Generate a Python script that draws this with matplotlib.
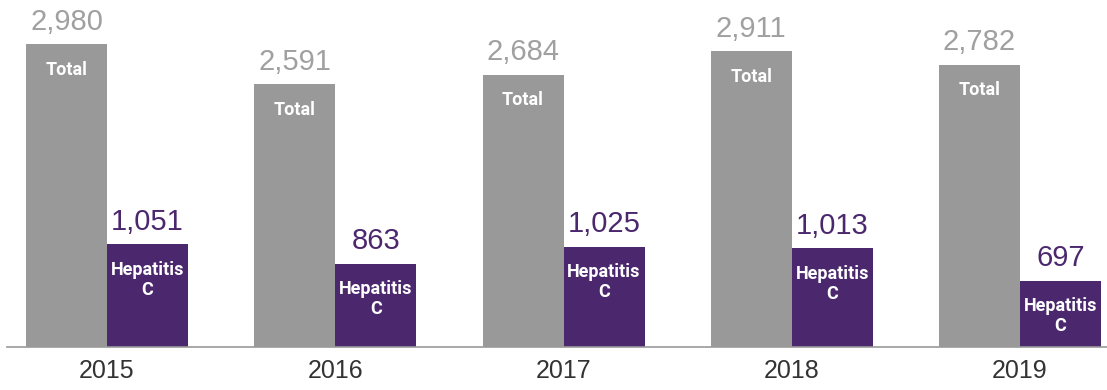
import matplotlib
matplotlib.use("Agg")
import matplotlib.pyplot as plt
import numpy as np

years = ["2015", "2016", "2017", "2018", "2019"]
total = [2980, 2591, 2684, 2911, 2782]
hepc = [1051, 863, 1025, 1013, 697]

GRAY = "#999999"
PURPLE = "#4b286d"
W, H = 1107, 390
fig = plt.figure(figsize=(W / 100, H / 100), dpi=100)
ax = fig.add_axes([7 / W, (H - 347) / H, 1 - 7 / W, 347 / H])

x = np.arange(len(years))
step = 228.25
bw = 81 / step
ax.bar(x - bw / 2, total, width=bw, color=GRAY, align="center", zorder=2)
ax.bar(x + bw / 2, hepc, width=bw, color=PURPLE, align="center", zorder=2)

ax.set_xlim((7 - 107) / step, (1107 - 107) / step)
ax.set_ylim(58, 3404)

num_font = ["Liberation Sans", "DejaVu Sans"]
narrow = ["Liberation Sans Narrow", "Roboto", "DejaVu Sans"]
for i in range(len(years)):
    ax.annotate(f"{total[i]:,}", (x[i] - bw / 2, total[i]), xytext=(0, 6),
                textcoords="offset points", ha="center", va="bottom",
                fontsize=21, color="#a0a0a0", family=num_font)
    ax.annotate(f"{hepc[i]:,}", (x[i] + bw / 2, hepc[i]), xytext=(0, 6),
                textcoords="offset points", ha="center", va="bottom",
                fontsize=21, color=PURPLE, family=num_font)
    ax.annotate("Total", (x[i] - bw / 2, total[i]), xytext=(0, -12),
                textcoords="offset points", ha="center", va="top",
                fontsize=13, color="white", family=narrow, fontweight="bold")
    ax.annotate("Hepatitis\nC", (x[i] + bw / 2, hepc[i]), xytext=(0, -12),
                textcoords="offset points", ha="center", va="top",
                fontsize=13, color="white", family=narrow, fontweight="bold",
                linespacing=1.15)

for s in ["top", "right", "left"]:
    ax.spines[s].set_visible(False)
ax.spines["bottom"].set_color("#999999")
ax.spines["bottom"].set_linewidth(1.2)
ax.set_yticks([])
ax.set_xticks(x)
ax.set_xticklabels(years, fontsize=18, color="#333333", family=num_font)
ax.tick_params(axis="x", length=0, pad=9)

fig.savefig("out.png", dpi=100)
